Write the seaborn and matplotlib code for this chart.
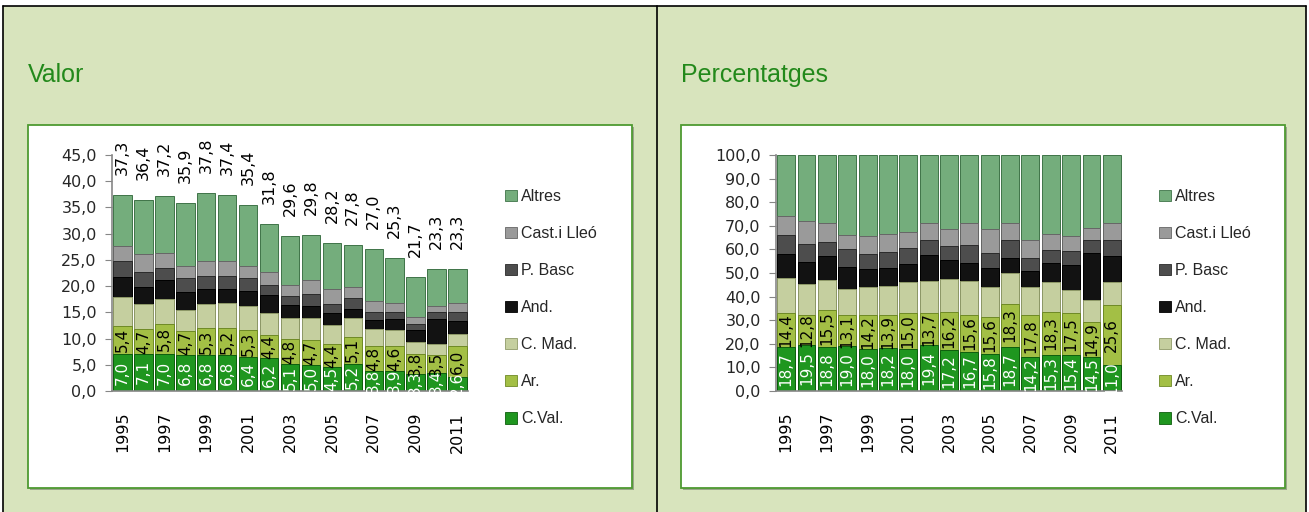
import numpy as np
import pandas as pd
import matplotlib
matplotlib.use("Agg")
import matplotlib.pyplot as plt
from matplotlib.patches import Rectangle, Patch
from matplotlib.lines import Line2D
from matplotlib.ticker import FuncFormatter, FixedLocator, MultipleLocator
import seaborn as sns

years = [str(y) for y in range(1995, 2012)]
series = ["C.Val.", "Ar.", "C. Mad.", "And.", "P. Basc", "Cast.i Lleó", "Altres"]

# Valor (absolute values)
val_cval = [7.0, 7.1, 7.0, 6.8, 6.8, 6.8, 6.4, 6.2, 5.1, 5.0, 4.5, 5.2, 3.8, 3.9, 3.3, 3.4, 2.6]
val_ar = [5.4, 4.7, 5.8, 4.7, 5.3, 5.2, 5.3, 4.4, 4.8, 4.7, 4.4, 5.1, 4.8, 4.6, 3.8, 3.5, 6.0]
val_cmad = [5.6, 4.8, 4.8, 4.0, 4.5, 4.7, 4.6, 4.2, 4.1, 4.2, 3.6, 3.6, 3.2, 3.1, 2.2, 2.1, 2.2]
val_and = [3.8, 3.3, 3.6, 3.3, 2.9, 2.8, 2.8, 3.5, 2.4, 2.3, 2.3, 1.8, 1.8, 2.1, 2.3, 4.7, 2.6]
val_pbasc = [3.0, 2.7, 2.3, 2.8, 2.4, 2.5, 2.4, 2.0, 1.7, 2.3, 1.8, 2.1, 1.5, 1.4, 1.2, 1.3, 1.7]
val_cast = [2.9, 3.6, 2.9, 2.2, 2.8, 2.8, 2.3, 2.3, 2.2, 2.7, 2.9, 2.0, 2.1, 1.7, 1.4, 1.2, 1.7]
val_altres = [9.6, 10.2, 10.8, 12.1, 13.1, 12.6, 11.6, 9.2, 9.3, 8.6, 8.7, 8.0, 9.8, 8.5, 7.5, 7.1, 6.5]
val_total = [37.3, 36.4, 37.2, 35.9, 37.8, 37.4, 35.4, 31.8, 29.6, 29.8, 28.2, 27.8, 27.0, 25.3, 21.7, 23.3, 23.3]

# Percentatges
pct_cval = [18.7, 19.5, 18.8, 19.0, 18.0, 18.2, 18.0, 19.4, 17.2, 16.7, 15.8, 18.7, 14.2, 15.3, 15.4, 14.5, 11.0]
pct_ar = [14.4, 12.8, 15.5, 13.1, 14.2, 13.9, 15.0, 13.7, 16.2, 15.6, 15.6, 18.3, 17.8, 18.3, 17.5, 14.9, 25.6]
pct_cmad = [14.9, 13.2, 12.9, 11.1, 11.8, 12.5, 13.0, 13.3, 14.0, 14.1, 12.6, 13.0, 12.0, 12.4, 10.0, 9.1, 9.4]
pct_and = [10.2, 9.2, 9.8, 9.3, 7.8, 7.5, 8.0, 11.1, 8.0, 7.8, 8.1, 6.4, 6.7, 8.2, 10.6, 20.0, 11.0]
pct_pbasc = [8.1, 7.5, 6.2, 7.8, 6.4, 6.8, 6.8, 6.4, 5.9, 7.8, 6.4, 7.7, 5.7, 5.7, 5.7, 5.6, 7.1]
pct_cast = [7.8, 9.9, 7.8, 6.0, 7.4, 7.5, 6.4, 7.3, 7.5, 9.2, 10.2, 7.1, 7.7, 6.8, 6.6, 5.0, 7.1]
pct_altres = [25.9, 27.9, 29.0, 33.7, 34.4, 33.6, 32.8, 28.8, 31.2, 28.8, 31.3, 28.8, 35.9, 33.3, 34.2, 30.9, 28.8]

colors = {
    "C.Val.": "#1f961f",
    "Ar.": "#a3bf45",
    "C. Mad.": "#c5cf9f",
    "And.": "#121212",
    "P. Basc": "#4d4d4d",
    "Cast.i Lleó": "#9a9a9a",
    "Altres": "#74ad7c",
}
edges = {
    "C.Val.": "#0d5e0d",
    "Ar.": "#6e8a25",
    "C. Mad.": "#8f9a68",
    "And.": "#000000",
    "P. Basc": "#2a2a2a",
    "Cast.i Lleó": "#666666",
    "Altres": "#3f7348",
}

W, H = 1309, 512
BG = "#d8e4bd"
GREEN_TXT = "#23891b"
BOX_EDGE = "#4e9a31"


def fig_rect(x0, y0, x1, y1):
    return [x0 / W, 1 - y1 / H, (x1 - x0) / W, (y1 - y0) / H]


def make_long(vals):
    df = pd.DataFrame({s: v for s, v in zip(series, vals)}, index=years)
    cum = df.cumsum(axis=1)
    long = df.reset_index(names="year").melt(id_vars="year", var_name="serie", value_name="value")
    long_cum = cum.reset_index(names="year").melt(id_vars="year", var_name="serie", value_name="cum")
    long["cum"] = long_cum["cum"]
    return long


def comma(v):
    return f"{v:.1f}".replace(".", ",")


sns.set_style("white")
plt.rcParams["font.family"] = ["DejaVu Sans"]

fig = plt.figure(figsize=(W / 100, H / 100), dpi=100, facecolor="white")

# panel background and frame
fig.patches.append(Rectangle((3 / W, 0), 1303 / W, 1 - 6 / H, transform=fig.transFigure,
                             facecolor=BG, edgecolor="none", zorder=-10))
for x in (3, 657, 1306):
    fig.lines.append(Line2D([x / W, x / W], [0, 1 - 6 / H], transform=fig.transFigure,
                            color="black", lw=1.2, zorder=-5))
fig.lines.append(Line2D([3 / W, 1306 / W], [1 - 6 / H, 1 - 6 / H], transform=fig.transFigure,
                        color="black", lw=1.2, zorder=-5))

panels = [
    dict(title="Valor", box=(28, 125, 632, 488), ax=(112, 155, 468, 391), leg=(505, 189),
         vals=[val_cval, val_ar, val_cmad, val_and, val_pbasc, val_cast, val_altres],
         ymax=45, step=5, total=val_total),
    dict(title="Percentatges", box=(681, 125, 1285, 488), ax=(776, 155, 1122, 391), leg=(1159, 189),
         vals=[pct_cval, pct_ar, pct_cmad, pct_and, pct_pbasc, pct_cast, pct_altres],
         ymax=100, step=10, total=None),
]

for p in panels:
    bx0, by0, bx1, by1 = p["box"]
    # shadow + white box
    fig.patches.append(Rectangle(((bx0 + 2) / W, 1 - (by1 + 2) / H), (bx1 - bx0) / W, (by1 - by0) / H,
                                 transform=fig.transFigure, facecolor="#9aa58a", edgecolor="none", zorder=-4))
    fig.patches.append(Rectangle((bx0 / W, 1 - by1 / H), (bx1 - bx0) / W, (by1 - by0) / H,
                                 transform=fig.transFigure, facecolor="white", edgecolor=BOX_EDGE,
                                 lw=1.3, zorder=-3))
    fig.text(bx0 / W, 1 - 75 / H, p["title"], color=GREEN_TXT, fontsize=18, va="center", ha="left",
             family=["Liberation Sans Narrow", "Liberation Sans", "DejaVu Sans"])

    ax = fig.add_axes(fig_rect(*p["ax"]))
    ax.patch.set_alpha(0)
    long = make_long(p["vals"])

    # stacked bars: draw cumulative heights from top layer down
    for s in reversed(series):
        sub = long[long["serie"] == s]
        sns.barplot(data=sub, x="year", y="cum", color=colors[s], saturation=1, width=0.88,
                    edgecolor=edges[s], linewidth=0.7, errorbar=None, ax=ax)

    ax.set_xlim(-0.5, len(years) - 0.5)
    ax.set_ylim(0, p["ymax"])
    ax.set_xlabel("")
    ax.set_ylabel("")
    ax.yaxis.set_major_locator(MultipleLocator(p["step"]))
    ax.yaxis.set_major_formatter(FuncFormatter(lambda v, pos: comma(v)))
    ax.set_xticks(range(0, len(years), 2))
    ax.set_xticklabels(years[::2], rotation=90)
    ax.xaxis.set_minor_locator(FixedLocator(np.arange(-0.5, len(years), 1)))
    ax.tick_params(axis="x", which="major", length=0, pad=15, labelsize=11.5, colors="black")
    ax.tick_params(axis="x", which="minor", length=5, color="#868686", direction="out")
    ax.tick_params(axis="y", which="major", length=5, color="#868686", direction="out",
                   labelsize=11.5, pad=6, left=True)
    for side in ("top", "right"):
        ax.spines[side].set_visible(False)
    for side in ("left", "bottom"):
        ax.spines[side].set_color("#868686")
        ax.spines[side].set_linewidth(1.2)

    # data labels
    cval, ar = p["vals"][0], p["vals"][1]
    for i in range(len(years)):
        ax.text(i, cval[i] / 2, comma(cval[i]), rotation=90, ha="center", va="center",
                color="white", fontsize=11, clip_on=False)
        ax.text(i, cval[i] + ar[i] / 2, comma(ar[i]), rotation=90, ha="center", va="center",
                color="black", fontsize=11, clip_on=False)
        if p["total"] is not None:
            ax.annotate(comma(p["total"][i]), (i, p["total"][i]), xytext=(0, 20),
                        textcoords="offset pixels", rotation=90, ha="center", va="bottom",
                        fontsize=11.5, color="black", annotation_clip=False)

    handles = [Patch(facecolor=colors[s], edgecolor=edges[s], lw=0.6) for s in reversed(series)]
    lx, ly = p["leg"]
    fig.legend(handles, list(reversed(series)), loc="upper left", bbox_to_anchor=(lx / W, 1 - ly / H),
               frameon=False, handlelength=0.75, handleheight=0.75, handletextpad=0.25,
               labelspacing=1.38, borderpad=0, borderaxespad=0,
               prop={"family": ["Liberation Sans", "DejaVu Sans"], "size": 11.5})

fig.savefig("out.png", dpi=100, facecolor="white")
